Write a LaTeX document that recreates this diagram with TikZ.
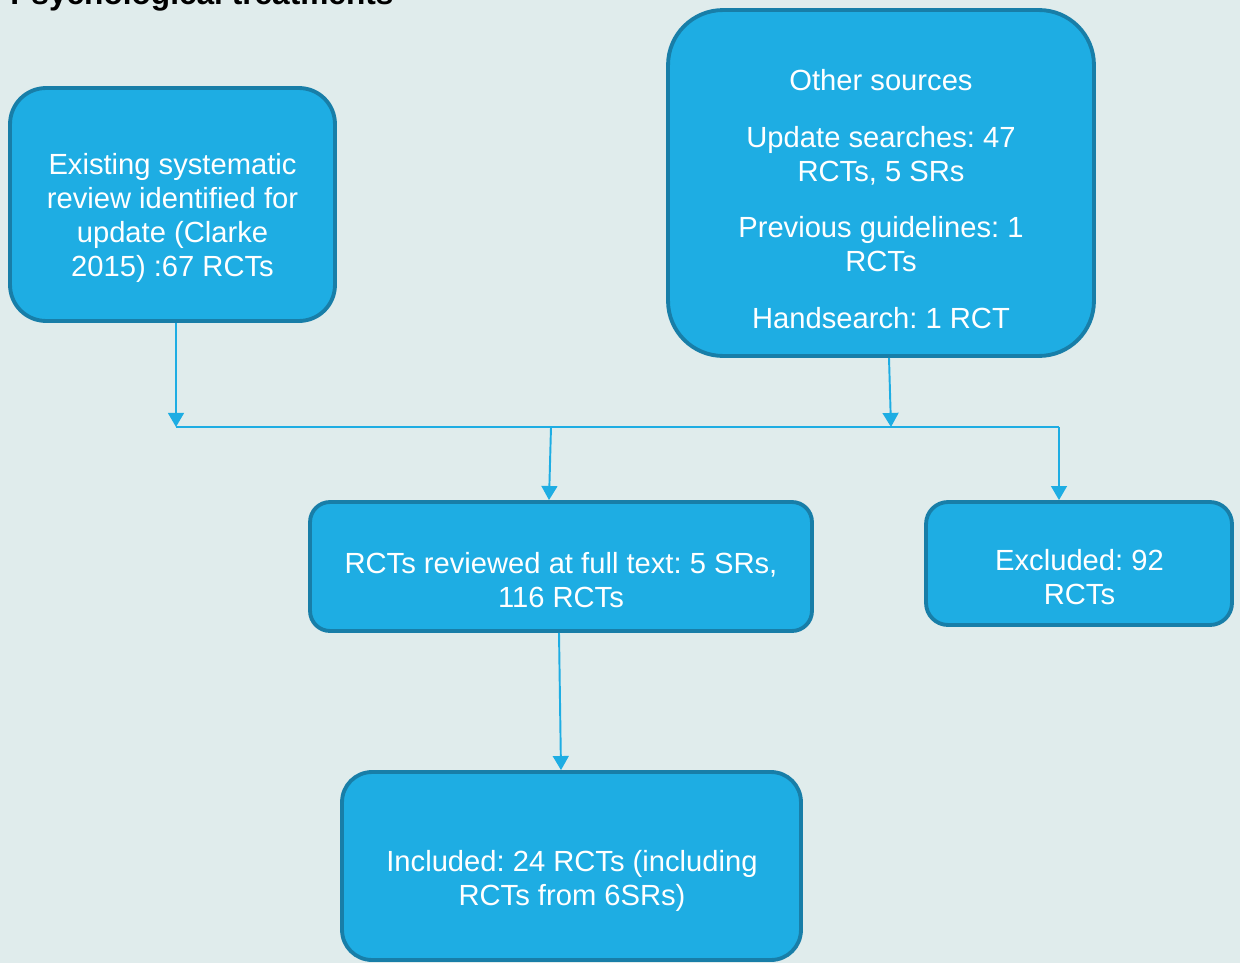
\documentclass[tikz,border=0pt]{standalone}
\usepackage{fontspec}
\setmainfont{Liberation Sans}
\usetikzlibrary{arrows.meta,positioning,calc}

\definecolor{bgcol}{RGB}{224,236,236}
\definecolor{boxfill}{RGB}{30,173,227}
\definecolor{boxedge}{RGB}{24,126,168}

\begin{document}
\frenchspacing
\begin{tikzpicture}[x=0.02cm, y=-0.02cm, >={Triangle[width=9pt,length=8pt]},
    box/.style={draw=boxedge, fill=boxfill, line width=2.2pt},
    txt/.style={text=white, align=center, font=\fontsize{16.6}{19.3}\selectfont, inner sep=0pt},
    flow/.style={->, boxfill, line width=1.1pt}]
    % Background and page size
    \fill[bgcol] (0,0) rectangle (1240,963);
    \useasboundingbox (0,0) rectangle (1240,963);

    % Title (cut off at the top)
    \node[anchor=base west, font=\fontsize{18}{21}\selectfont\bfseries, inner sep=0pt] (title) at (10,5) {Psychological treatments};

    % Boxes
    \node[box, rounded corners=0.72cm, minimum width=6.5cm, minimum height=4.66cm] (exist) at (172.5,204.5) {};
    \node[box, rounded corners=1.1cm, minimum width=8.52cm, minimum height=6.92cm] (other) at (881,183) {};
    \node[box, rounded corners=0.4cm, minimum width=10.04cm, minimum height=2.58cm] (reviewed) at (561,566.5) {};
    \node[box, rounded corners=0.44cm, minimum width=6.12cm, minimum height=2.46cm] (excluded) at (1079,563.5) {};
    \node[box, rounded corners=0.6cm, minimum width=9.18cm, minimum height=3.76cm] (included) at (571.5,866) {};

    % Box texts
    \node[txt] (existtxt) at (172.5,218) {Existing systematic\\review identified for\\update (Clarke\\2015) :67 RCTs};
    \node[txt] (othertxt) at (881,199) {Other sources\\[13pt]Update searches: 47\\RCTs, 5 SRs\\[13pt]Previous guidelines: 1\\RCTs\\[13pt]Handsearch: 1 RCT};
    \node[txt] (reviewedtxt) at (561,580) {RCTs reviewed at full text: 5 SRs,\\116 RCTs};
    \node[txt] (excludedtxt) at (1079.5,577) {Excluded: 92\\RCTs};
    \node[txt] (includedtxt) at (572,881) {Included: 24 RCTs (including\\RCTs from 6SRs)};

    % Connectors
    \coordinate (j1) at (176,427);
    \coordinate (j2) at (891,427);
    \coordinate (j3) at (551,427);
    \coordinate (j4) at (1059,427);
    \draw[flow] (exist.south -| j1) -- (j1);
    \draw[boxfill, line width=1.1pt] (j1) -- (j4);
    \draw[flow] ($(other.south)+(8,0)$) -- (j2);
    \draw[flow] (j3) -- ($(reviewed.north)+(-12,0)$);
    \draw[flow] (j4) -- (excluded.north -| j4);
    \draw[flow] ($(reviewed.south)+(-2,0)$) -- ($(included.north)+(-10.5,0)$);
\end{tikzpicture}
\end{document}
